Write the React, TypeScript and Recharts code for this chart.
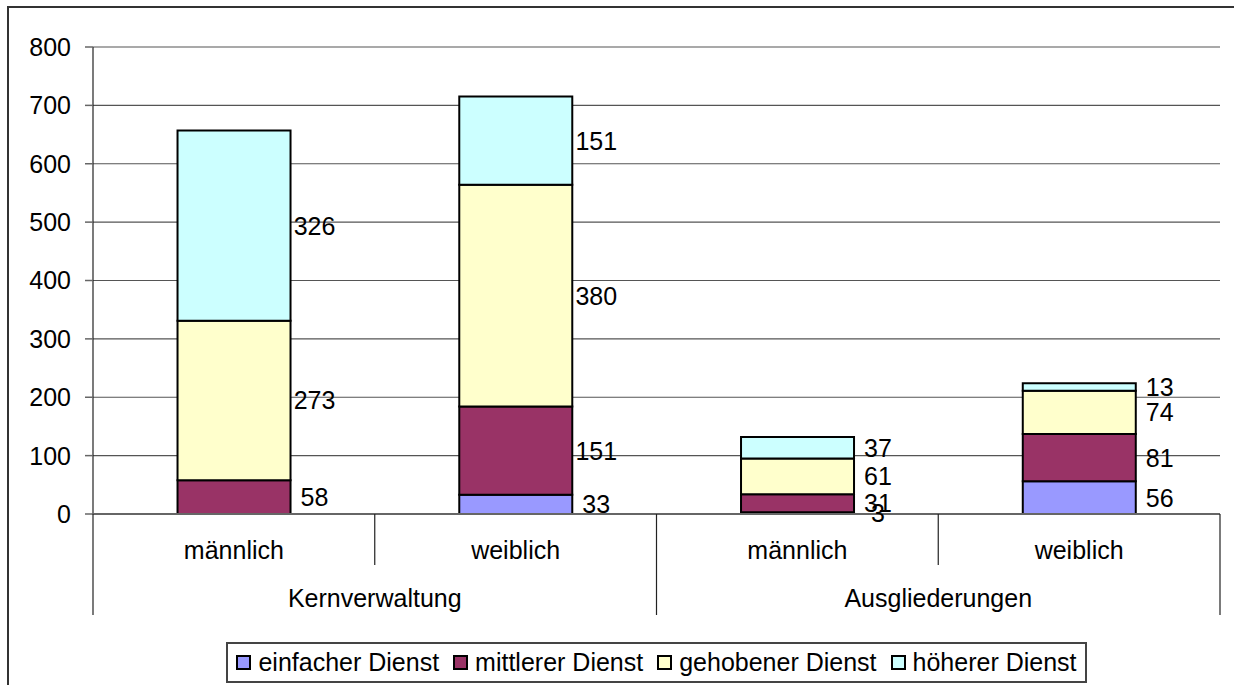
import React from "react";
import {
  BarChart,
  Bar,
  XAxis,
  YAxis,
  CartesianGrid,
  Legend,
  LabelList,
} from "recharts";

// Kategorien und Werte
const categories = ["männlich", "weiblich", "männlich", "weiblich"];
const groups = ["Kernverwaltung", "Kernverwaltung", "Ausgliederungen", "Ausgliederungen"];
const einfacher = [0, 33, 3, 56];
const mittlerer = [58, 151, 31, 81];
const gehobener = [273, 380, 61, 74];
const hoeherer = [326, 151, 37, 13];
const yTicks = [0, 100, 200, 300, 400, 500, 600, 700, 800];

const series = [
  { key: "einfacher", name: "einfacher Dienst", color: "#9999FF" },
  { key: "mittlerer", name: "mittlerer Dienst", color: "#993366" },
  { key: "gehobener", name: "gehobener Dienst", color: "#FFFFCC" },
  { key: "hoeherer", name: "höherer Dienst", color: "#CCFFFF" },
];

const data = categories.map((c, i) => ({
  cat: c,
  group: groups[i],
  einfacher: einfacher[i],
  mittlerer: mittlerer[i],
  gehobener: gehobener[i],
  hoeherer: hoeherer[i],
}));

const FONT = '"Liberation Sans", Arial, sans-serif';
const FS = 25;
const CHART_W = 1226;
const CHART_H = 690;
const Y_AXIS_W = 84;
const MARGIN = { top: 39, right: 15, left: 0, bottom: 0 };
const BAND = (CHART_W - Y_AXIS_W - MARGIN.right - MARGIN.left) / categories.length;

function CategoryTick(props: any) {
  const { x, y, payload } = props;
  const i = payload.index;
  const isGroupEnd = i === categories.length - 1 || groups[i + 1] !== groups[i];
  const isGroupStart = i === 0 || groups[i - 1] !== groups[i];
  return (
    <g>
      <text x={x} y={y + 36} textAnchor="middle" dominantBaseline="central" fontSize={FS} fill="#000" fontFamily={FONT}>
        {payload.value}
      </text>
      {i === 0 && <line x1={x - BAND / 2} x2={x - BAND / 2} y1={y} y2={y + 101} stroke="#222" strokeWidth={1.2} />}
      <line x1={x + BAND / 2} x2={x + BAND / 2} y1={y} y2={y + (isGroupEnd ? 101 : 51)} stroke="#222" strokeWidth={1.2} />
      {isGroupStart && (
        <text x={x + BAND / 2} y={y + 84} textAnchor="middle" dominantBaseline="central" fontSize={FS} fill="#000" fontFamily={FONT}>
          {groups[i]}
        </text>
      )}
    </g>
  );
}

function SideLabel(props: any) {
  const { x, y, width, height, value } = props;
  if (!value) return null;
  return (
    <text x={x + width + 24} y={y + height / 2} textAnchor="middle" dominantBaseline="central" fontSize={FS} fill="#000" fontFamily={FONT}>
      {value}
    </text>
  );
}

function LegendBox() {
  return (
    <div style={{ height: 74, boxSizing: "border-box", paddingTop: 18, paddingLeft: Y_AXIS_W, display: "flex", justifyContent: "center" }}>
      <div style={{ height: 41, boxSizing: "border-box", border: "2px solid #444", display: "flex", alignItems: "center", padding: "0 8px", fontFamily: FONT, fontSize: FS }}>
        {series.map((s, i) => (
          <div key={s.key} style={{ display: "flex", alignItems: "center", marginLeft: i === 0 ? 0 : 14 }}>
            <span style={{ width: 11, height: 11, border: "2px solid #000", background: s.color, marginRight: 7, display: "inline-block" }} />
            <span>{s.name}</span>
          </div>
        ))}
      </div>
    </div>
  );
}

export default function App() {
  return (
    <div style={{ position: "absolute", left: 7, top: 6, width: CHART_W, height: 700, border: "2px solid #333", background: "#fff" }}>
      <BarChart width={CHART_W} height={CHART_H} data={data} margin={MARGIN} barCategoryGap="30%">
        <CartesianGrid vertical={false} stroke="#555" strokeWidth={1.2} />
        <YAxis
          domain={[0, 800]}
          ticks={yTicks}
          width={Y_AXIS_W}
          tickSize={8}
          tickMargin={14}
          axisLine={{ stroke: "#222", strokeWidth: 1.2 }}
          tickLine={{ stroke: "#666", strokeWidth: 1.5 }}
          tick={{ fontSize: FS, fill: "#000", fontFamily: FONT }}
          interval={0}
        />
        <YAxis yAxisId="r" orientation="right" width={0} domain={[0, 800]} tick={false} tickLine={false} axisLine={{ stroke: "#888", strokeWidth: 2 }} />
        <XAxis
          dataKey="cat"
          height={110}
          tickSize={0}
          tickMargin={0}
          tickLine={false}
          axisLine={{ stroke: "#666", strokeWidth: 2 }}
          tick={<CategoryTick />}
          interval={0}
        />
        <Legend verticalAlign="bottom" content={() => <LegendBox />} />
        {series.map((s) => (
          <Bar key={s.key} dataKey={s.key} name={s.name} stackId="a" fill={s.color} stroke="#000" strokeWidth={2} isAnimationActive={false}>
            <LabelList dataKey={s.key} content={<SideLabel />} />
          </Bar>
        ))}
      </BarChart>
    </div>
  );
}
